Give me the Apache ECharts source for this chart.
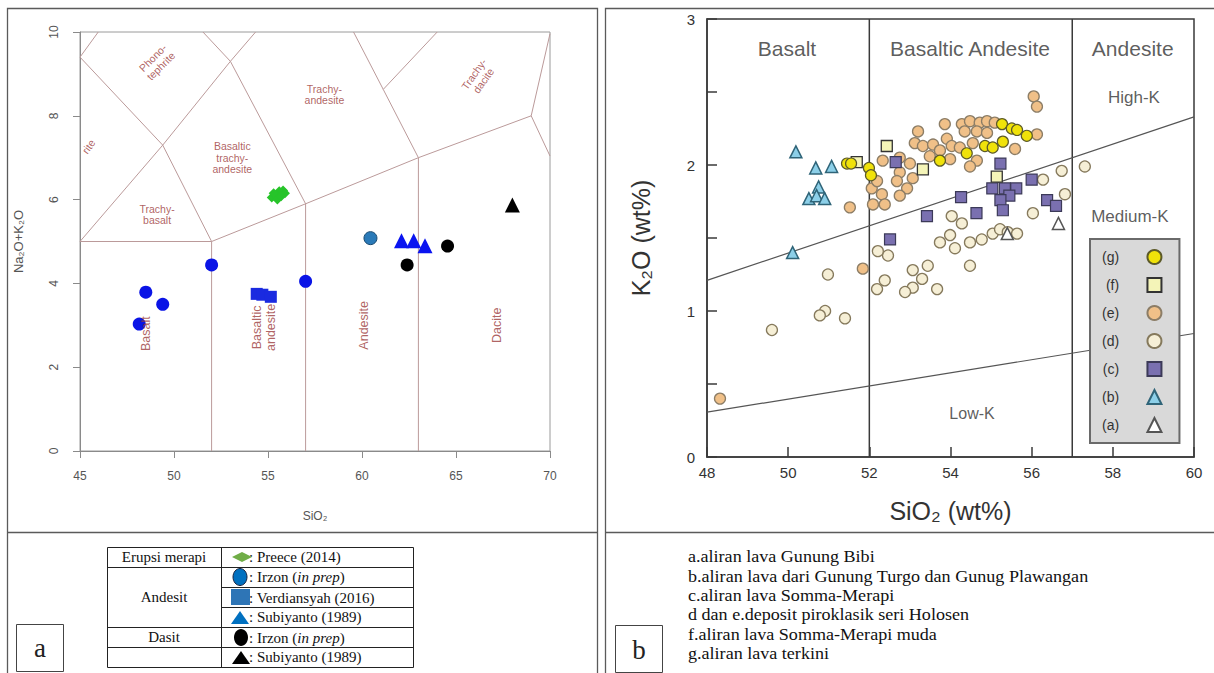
<!DOCTYPE html>
<html><head><meta charset="utf-8">
<script src="https://cdn.jsdelivr.net/npm/echarts@6/dist/echarts.min.js"></script>
<style>html,body{margin:0;padding:0;background:#fff}#c{width:1214px;height:673px}</style>
</head><body><div id="c"></div>
<script>
// ---------------- Panel a : TAS diagram ----------------
const tasXTicks = [45, 70, 5];      // min, max, step
const tasYTicks = [0, 10, 2];
const tasBoundaries = [
  [[45,5],[52,5]],
  [[52,0],[52,5]],
  [[57,0],[57,5.9]],
  [[63,0],[63,7]],
  [[52,5],[57,5.9],[63,7],[69,8]],
  [[69,8],[70,7.04]],
  [[69,8],[70,9.96]],
  [[45,5],[49.4,7.3],[53,9.3],[54.34,10]],
  [[52,5],[49.4,7.3],[45,9.4]],
  [[45,9.4],[45.97,10]],
  [[57,5.9],[53,9.3],[51.54,10]],
  [[63,7],[61.13,8.63],[59.55,10]],
  [[61.13,8.63],[64,10]]
];
const tasFieldText = ['Phono-\ntephrite','rite','Trachy-\nandesite','Trachy-\ndacite','Basaltic\ntrachy-\nandesite','Trachy-\nbasalt','Basalt','Basaltic\nandesite','Andesite','Dacite'];
const tasFieldAt   = [[49.1,9.28],[45.45,7.27],[58.0,8.51],[66.2,8.92],[53.1,7.0],[49.1,5.64],[48.5,2.8],[54.8,2.95],[60.1,3.0],[67.2,3.0]];
const tasFieldTilt = [45,55,0,55,0,0,90,90,90,90];

const preece2014      = [[55.2,6.05],[55.4,6.10],[55.6,6.20],[55.8,6.22],[55.9,6.15],[55.5,6.00],[55.7,6.08],[55.3,6.15]];
const blueCircles     = [[48.15,3.03],[48.5,3.79],[49.4,3.5],[52.0,4.44],[57.0,4.05]];
const irzonAndesit    = [[60.45,5.08]];
const verdiansyah2016 = [[54.4,3.75],[54.7,3.73],[55.15,3.68]];
const subiyantoAndesit= [[62.1,5.02],[62.75,5.02],[63.35,4.9]];
const irzonDasit      = [[62.4,4.44],[64.55,4.89]];
const subiyantoDasit  = [[68.0,5.87]];

// ---------------- Panel b : K2O vs SiO2 ----------------
const kXTicks = [48, 60, 2];
const kYTicks = [0, 3, 0.5];
const kDividers = [[[52,0],[52,3]], [[57,0],[57,3]]];
const kSeriesLines = [[[48,1.21],[60,2.33]], [[48,0.307],[60,0.846]]];
const kRegionText = ['Basalt','Basaltic Andesite','Andesite','High-K','Medium-K','Low-K'];
const kRegionAt   = [[49.97,2.80],[54.48,2.80],[58.49,2.80],[58.52,2.46],[58.42,1.65],[54.53,0.30]];
const legendNames = ['(g)','(f)','(e)','(d)','(c)','(b)','(a)'];

const seriesG = [[51.45,2.01],[51.55,2.01],[51.99,1.98],[52.04,1.93],[53.74,2.03],[54.40,2.08],[54.85,2.13],[55.04,2.12],[55.29,2.16],[55.27,2.28],[55.51,2.25],[55.64,2.24],[55.88,2.20]];
const seriesF = [[51.69,2.02],[52.43,2.13],[53.32,1.97],[55.14,1.92]];
const seriesE = [[56.05,2.47],[56.13,2.40],[53.86,2.28],[54.28,2.28],[54.48,2.30],[54.72,2.29],[54.90,2.30],[55.09,2.29],[54.35,2.23],[54.65,2.23],[54.90,2.22],[53.20,2.23],[53.12,2.15],[53.32,2.13],[53.57,2.14],[53.91,2.18],[54.03,2.13],[54.23,2.12],[54.55,2.15],[53.74,2.10],[53.49,2.06],[53.99,2.04],[54.65,2.03],[54.48,1.99],[52.75,2.05],[53.00,2.01],[53.07,1.91],[52.75,1.95],[52.68,1.89],[52.93,1.84],[52.75,1.79],[56.13,2.21],[55.59,2.11],[52.33,2.03],[52.06,1.84],[52.19,1.89],[52.31,1.80],[52.38,1.73],[52.09,1.73],[51.52,1.71],[51.84,1.29],[48.32,0.40]];
const seriesD = [[56.28,1.90],[56.74,1.96],[57.31,1.99],[56.82,1.80],[54.03,1.65],[54.28,1.60],[56.03,1.67],[53.74,1.47],[53.99,1.52],[54.11,1.43],[54.48,1.47],[54.77,1.49],[55.04,1.53],[55.22,1.56],[55.41,1.54],[55.64,1.53],[54.48,1.31],[52.46,1.38],[52.38,1.21],[53.07,1.28],[53.44,1.31],[53.30,1.22],[53.07,1.16],[52.88,1.13],[53.67,1.15],[52.21,1.41],[52.19,1.15],[50.98,1.25],[50.91,1.00],[50.78,0.97],[51.40,0.95],[49.60,0.87]];
const seriesC = [[52.65,2.02],[55.23,2.01],[56.0,1.90],[55.03,1.84],[55.34,1.84],[55.62,1.84],[55.45,1.79],[55.23,1.76],[55.29,1.69],[54.26,1.78],[56.38,1.76],[56.6,1.72],[53.42,1.65],[54.64,1.67],[52.51,1.49]];
const seriesB = [[50.19,2.09],[50.68,1.98],[51.07,1.99],[50.75,1.85],[50.51,1.77],[50.70,1.79],[50.90,1.77],[50.11,1.40]];
const seriesA = [[56.66,1.60],[55.40,1.53]];

// table / caption texts
const tableGroups = ['Erupsi merapi','Andesit','Dasit'];
const tableRefs = [': Preece (2014)', ': Irzon (|in prep|)', ': Verdiansyah (2016)', ': Subiyanto (1989)', ': Irzon (|in prep|)', ': Subiyanto (1989)'];
const captionB = ['a.aliran lava Gunung Bibi','b.aliran lava dari Gunung Turgo dan Gunug Plawangan','c.aliran lava Somma-Merapi','d dan e.deposit piroklasik seri Holosen','f.aliran lava Somma-Merapi muda','g.aliran lava terkini'];

// ---------------- build ----------------
const SANS = 'Liberation Sans, Arial, Helvetica, sans-serif';
const SERIF = 'Liberation Serif, Times New Roman, serif';
const chart = echarts.init(document.getElementById('c'), null, {renderer:'svg', width:1214, height:673});

function labelSeries(xi, texts, at, tilt, style, sizes){
  return {type:'scatter', xAxisIndex:xi, yAxisIndex:xi, symbolSize:1, silent:true, z:5,
    itemStyle:{color:'rgba(0,0,0,0)'},
    data: texts.map((t,i)=>({value:at[i], name:t, label:{rotate: tilt? tilt[i]:0, fontSize: sizes? sizes[i]: style.fontSize, lineHeight: sizes? sizes[i]+1 : style.lineHeight}})),
    label:Object.assign({show:true, position:'inside', formatter:p=>p.name, align:'center', verticalAlign:'middle'}, style)};
}
function linesSeries(xi, segs, style){
  return {type:'lines', coordinateSystem:'cartesian2d', xAxisIndex:xi, yAxisIndex:xi, polyline:true, silent:true, z:1,
    data: segs.map(c=>({coords:c})), lineStyle:style};
}
function sc(xi, name, data, symbol, size, color, border, bw){
  return {type:'scatter', name, xAxisIndex:xi, yAxisIndex:xi, data, symbol, symbolSize:size, z:3,
    itemStyle:{color, borderColor:border, borderWidth:bw||0, opacity:1}};
}

const G = [];
const LC = '#5a5a5a';
G.push({type:'rect', shape:{x:7.5,y:8.5,width:590,height:680}, style:{fill:'none',stroke:LC,lineWidth:1.3}, silent:true});
G.push({type:'line', shape:{x1:7.5,y1:532.5,x2:597.5,y2:532.5}, style:{stroke:LC,lineWidth:1.3}});
G.push({type:'rect', shape:{x:605.5,y:8.5,width:620,height:680}, style:{fill:'none',stroke:LC,lineWidth:1.3}, silent:true});
G.push({type:'line', shape:{x1:605.5,y1:532.5,x2:1214,y2:532.5}, style:{stroke:LC,lineWidth:1.3}});
// "a" and "b" boxes
G.push({type:'rect', shape:{x:16.5,y:624.5,width:47,height:47}, style:{fill:'none',stroke:'#444',lineWidth:1}});
G.push({type:'text', x:40, y:648, style:{text:'a', fontSize:27, fontFamily:SERIF, fill:'#222', align:'center', verticalAlign:'middle'}});
G.push({type:'rect', shape:{x:615.5,y:625.5,width:47,height:47}, style:{fill:'none',stroke:'#444',lineWidth:1}});
G.push({type:'text', x:639, y:650, style:{text:'b', fontSize:27, fontFamily:SERIF, fill:'#222', align:'center', verticalAlign:'middle'}});
// legend table panel a
const tL=107.5, tM=221.5, tR=413.5;
[547.5,567.5,627.5,647.5,667.5].forEach(y=>G.push({type:'line', shape:{x1:tL,y1:y,x2:tR,y2:y}, style:{stroke:'#222',lineWidth:1}}));
[587.5,607.5].forEach(y=>G.push({type:'line', shape:{x1:tM,y1:y,x2:tR,y2:y}, style:{stroke:'#222',lineWidth:1}}));
[tL,tM,tR].forEach(x=>G.push({type:'line', shape:{x1:x,y1:547.5,x2:x,y2:667.5}, style:{stroke:'#222',lineWidth:1}}));
const groupY = [557, 597, 637];
tableGroups.forEach((t,i)=>G.push({type:'text', x:164, y:groupY[i], style:{text:t, fontSize:15, fontFamily:SERIF, fill:'#111', align:'center', verticalAlign:'middle'}}));
const rowY = [557, 577, 597.5, 617, 637.5, 657];
tableRefs.forEach((t,i)=>{
  const parts = t.split('|');
  const txt = parts.length===3 ? '{n|'+parts[0]+'}{i|'+parts[1]+'}{n|'+parts[2]+'}' : '{n|'+t+'}';
  G.push({type:'text', x:249, y:rowY[i], style:{text:txt, fontSize:15, fontFamily:SERIF, fill:'#111', align:'left', verticalAlign:'middle',
    rich:{n:{fontSize:15,fontFamily:SERIF,fill:'#111'}, i:{fontSize:15,fontFamily:SERIF,fontStyle:'italic',fill:'#111'}}}});
});
G.push({type:'polygon', shape:{points:[[232,557],[242,552],[252,557],[242,562]]}, style:{fill:'#70ad47'}});
G.push({type:'ellipse', shape:{cx:240,cy:577,rx:7,ry:8.5}, style:{fill:'#0070c0',stroke:'#1b2540',lineWidth:1}});
G.push({type:'rect', shape:{x:231,y:589,width:19,height:16}, style:{fill:'#2e75b6'}});
G.push({type:'polygon', shape:{points:[[231,624],[240,611],[249,624]]}, style:{fill:'#0070c0'}});
G.push({type:'ellipse', shape:{cx:241,cy:637.5,rx:7,ry:8.5}, style:{fill:'#000'}});
G.push({type:'polygon', shape:{points:[[232,664],[241,651],[250,664]]}, style:{fill:'#000'}});
// caption panel b (slightly stretched, as in the reference)
captionB.forEach((t,i)=>G.push({type:'text', x:688, y:557+i*19.4, scaleX:1.13, style:{text:t, fontSize:16, fontFamily:SERIF, fill:'#111', align:'left', verticalAlign:'middle'}}));

const NB = '\u00a0';
const option = {
  animation:false,
  backgroundColor:'#fff',
  grid:[
    {left:80, top:32, width:470, height:419, show:true, borderColor:'#9a9a9a', borderWidth:1, containLabel:false, outerBoundsMode:'none'},
    {left:707, top:19, width:487, height:438, show:true, borderColor:'#3a3a3a', borderWidth:1.5, containLabel:false, outerBoundsMode:'none'}
  ],
  xAxis:[
    {gridIndex:0, type:'value', min:tasXTicks[0], max:tasXTicks[1], interval:tasXTicks[2],
      axisLine:{show:true,onZero:false,lineStyle:{color:'#8a8a8a'}}, axisTick:{show:true,inside:false,length:7,lineStyle:{color:'#8a8a8a'}},
      axisLabel:{color:'#555',fontSize:12,margin:19,fontFamily:SANS}, splitLine:{show:false},
      name:'SiO₂', nameLocation:'middle', nameGap:59, nameTextStyle:{color:'#555',fontSize:12,fontFamily:SANS}},
    {gridIndex:1, type:'value', min:kXTicks[0], max:kXTicks[1], interval:kXTicks[2],
      axisLine:{show:true,onZero:false,lineStyle:{color:'#3a3a3a',width:1.5}}, axisTick:{show:true,inside:true,length:10,lineStyle:{color:'#3a3a3a',width:1.5}},
      axisLabel:{color:'#333',fontSize:15,margin:8,fontFamily:SANS}, splitLine:{show:false},
      name:'SiO₂ (wt%)', nameLocation:'middle', nameGap:41, nameTextStyle:{color:'#333',fontSize:25,fontFamily:SANS}}
  ],
  yAxis:[
    {gridIndex:0, type:'value', min:tasYTicks[0], max:tasYTicks[1], interval:tasYTicks[2],
      axisLine:{show:true,onZero:false,lineStyle:{color:'#8a8a8a'}}, axisTick:{show:true,inside:false,length:7,lineStyle:{color:'#8a8a8a'}},
      axisLabel:{color:'#555',fontSize:12,margin:20,rotate:90,fontFamily:SANS}, splitLine:{show:false},
      name:'Na₂O+K₂O', nameLocation:'middle', nameGap:55, nameRotate:90, nameTextStyle:{color:'#555',fontSize:13,fontFamily:SANS}},
    {gridIndex:1, type:'value', min:kYTicks[0], max:kYTicks[1], interval:kYTicks[2],
      axisLine:{show:true,onZero:false,lineStyle:{color:'#3a3a3a',width:1.5}}, axisTick:{show:true,inside:true,length:10,lineStyle:{color:'#3a3a3a',width:1.5}},
      axisLabel:{color:'#333',fontSize:15,margin:12,fontFamily:SANS, formatter:v=>Number.isInteger(v)?String(v):''}, splitLine:{show:false},
      name:'K₂O (wt%)', nameLocation:'middle', nameGap:54, nameRotate:90, nameTextStyle:{color:'#333',fontSize:25,fontFamily:SANS}}
  ],
  legend:{
    data:legendNames, orient:'vertical', left:1090, top:239, align:'right',
    padding:[10,17,10,12], itemGap:12, itemWidth:14, itemHeight:14,
    backgroundColor:'#d9d9d9', borderColor:'#6a6a6a', borderWidth:2, borderRadius:0,
    selectedMode:false,
    formatter:n=>n + NB.repeat(6),
    textStyle:{color:'#333',fontSize:14,fontFamily:SANS}
  },
  graphic:G,
  series:[
    linesSeries(0, tasBoundaries, {color:'#bb9a9a', width:1, opacity:1}),
    labelSeries(0, tasFieldText, tasFieldAt, tasFieldTilt, {color:'#9b3a3a', fontSize:10.5, lineHeight:11.5, fontFamily:SANS}, [10.5,10.5,10.5,10.5,10.5,10.5,12.5,12.5,12.5,12.5]),
    sc(0,'Preece (2014)', preece2014, 'diamond', 10, '#27c42a'),
    sc(0,'Basalt circles', blueCircles, 'circle', 13, '#0a14e6'),
    sc(0,'Irzon (in prep) andesit', irzonAndesit, 'circle', 13, '#2a7ab8', '#1a4a70', 1),
    sc(0,'Verdiansyah (2016)', verdiansyah2016, 'rect', 12, '#1a2ae0'),
    sc(0,'Subiyanto (1989) andesit', subiyantoAndesit, 'triangle', 15, '#0a14f0'),
    sc(0,'Irzon (in prep) dasit', irzonDasit, 'circle', 13, '#000'),
    sc(0,'Subiyanto (1989) dasit', subiyantoDasit, 'triangle', 15, '#000'),

    linesSeries(1, kDividers, {color:'#3a3a3a', width:1.5, opacity:1}),
    linesSeries(1, kSeriesLines, {color:'#555', width:1.2, opacity:1}),
    labelSeries(1, kRegionText, kRegionAt, null, {color:'#333', fontSize:15, fontFamily:SANS}, [21,21,21,17,17,16]),
    sc(1,'(d)', seriesD, 'circle', 11, '#f6efd6', '#85795c', 1.3),
    sc(1,'(e)', seriesE, 'circle', 11, '#f0c088', '#8c7d66', 1.3),
    sc(1,'(c)', seriesC, 'rect', 11, '#7a70b0', '#3c3a58', 1.2),
    sc(1,'(f)', seriesF, 'rect', 11, '#f4f4b8', '#333', 1.3),
    sc(1,'(g)', seriesG, 'circle', 11, '#f0e20a', '#5c5a28', 1.2),
    sc(1,'(b)', seriesB, 'triangle', 12, '#8ccfe8', '#2f6478', 1.5),
    sc(1,'(a)', seriesA, 'triangle', 12, '#ffffff', '#555', 1.5)
  ]
};
chart.setOption(option);
</script></body></html>
